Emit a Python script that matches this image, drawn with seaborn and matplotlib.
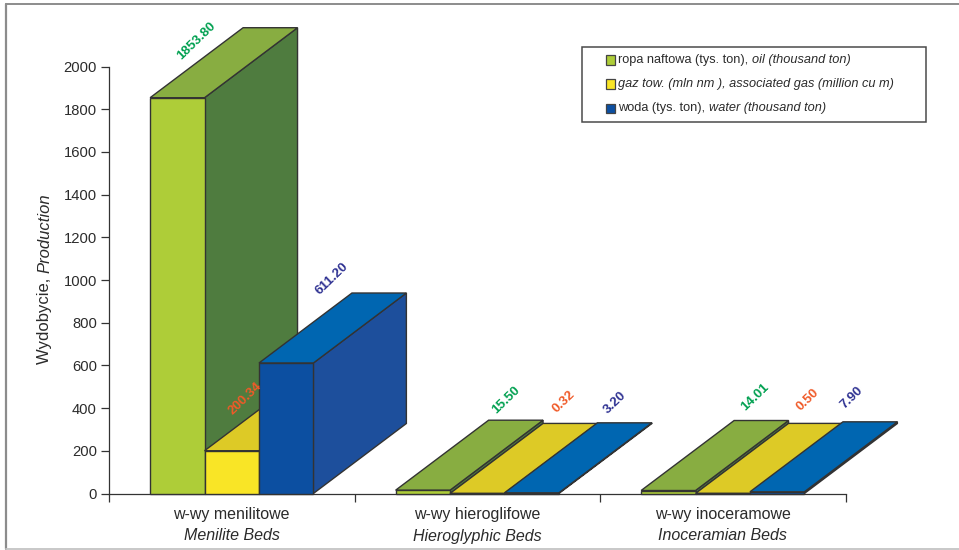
import matplotlib
matplotlib.use("Agg")
import matplotlib.pyplot as plt
from matplotlib.lines import Line2D
from matplotlib.patches import Polygon, Rectangle
from matplotlib.text import Annotation
import pandas as pd
import seaborn as sns

categories = ["w-wy menilitowe", "w-wy hieroglifowe", "w-wy inoceramowe"]
categories_en = ["Menilite Beds", "Hieroglyphic Beds", "Inoceramian Beds"]
series = ["oil", "gas", "water"]
oil = [1853.80, 15.50, 14.01]
gas = [200.34, 0.32, 0.50]
water = [611.20, 3.20, 7.90]
y_ticks = [0, 200, 400, 600, 800, 1000, 1200, 1400, 1600, 1800, 2000]

front_colors = ["#AECD38", "#F9E526", "#0C4FA1"]
top_colors = ["#88AD41", "#DDCA26", "#0066B1"]
side_colors = ["#4F7C3F", "#4F7C3F", "#1D4F9C"]
label_colors = ["#00A050", "#F05A28", "#2E3192"]
edge = "#333333"
text_color = "#2B2B2B"

W, H = 959, 550
X0, X1, Y0, Y1 = 109, 845.5, 493.5, 66.5
DEPTH_X, DEPTH_Y = 93, 70  # extrusion of each bar, in pixels

# value-label offsets from the top centre of each front face, in pixels
label_offsets = {
    "oil": [(19, 57), (83, 90), (87, 93)],
    "gas": [(13, 52), (87, 92), (85, 94)],
    "water": [(46, 84), (83, 90), (75, 94)],
}

sns.set_theme(style="white")
plt.rcParams["font.family"] = ["Liberation Sans", "DejaVu Sans"]
plt.rcParams["axes.unicode_minus"] = False

fig = plt.figure(figsize=(W / 100, H / 100), dpi=100)
ax = fig.add_axes([X0 / W, 1 - Y0 / H, (X1 - X0) / W, (Y0 - Y1) / H])


def px(x, y):
    """Pixel position (origin top left) to figure fraction."""
    return x / W, 1 - y / H


table = pd.DataFrame({
    "category": categories * 3,
    "series": [s for s in series for _ in categories],
    "value": oil + gas + water,
})

sns.barplot(
    data=table, x="category", y="value", hue="series", order=categories,
    hue_order=series, palette=front_colors, width=0.665, gap=0, saturation=1,
    edgecolor=edge, linewidth=1.0, legend=False, ax=ax, zorder=3,
)
ax.set_xlim(-0.5, 2.5)
ax.set_ylim(0, 2000)

dx = DEPTH_X / (X1 - X0) * 3
dy = DEPTH_Y / (Y0 - Y1) * 2000

# each series' bars in hue order; later bars are painted over earlier ones
z = 3.0
for s_idx, container in enumerate(ax.containers):
    for bar in container:
        x0, x1, v = bar.get_x(), bar.get_x() + bar.get_width(), bar.get_height()
        side = [(x1, 0), (x1 + dx, dy), (x1 + dx, v + dy), (x1, v)]
        top = [(x0, v), (x1, v), (x1 + dx, v + dy), (x0 + dx, v + dy)]
        z += 1
        ax.add_patch(Polygon(side, closed=True, facecolor=side_colors[s_idx],
                             edgecolor=edge, linewidth=1.0, clip_on=False, zorder=z))
        ax.add_patch(Polygon(top, closed=True, facecolor=top_colors[s_idx],
                             edgecolor=edge, linewidth=1.0, clip_on=False, zorder=z))
        bar.set_zorder(z + 0.5)
        bar.set_clip_on(False)

# value labels, raised along the slope of the extrusion
for s_idx, (name, values) in enumerate(zip(series, [oil, gas, water])):
    for c_idx, v in enumerate(values):
        bar = ax.containers[s_idx][c_idx]
        ax.annotate(
            f"{v:.2f}", xy=(bar.get_x() + bar.get_width() / 2, v),
            xytext=label_offsets[name][c_idx], textcoords="offset pixels",
            ha="center", va="center", rotation=44, rotation_mode="anchor",
            fontsize=9.6, fontweight="bold", color=label_colors[s_idx],
            annotation_clip=False, zorder=30,
        )

sns.despine(ax=ax)
for spine in ("left", "bottom"):
    ax.spines[spine].set_color(edge)
    ax.spines[spine].set_linewidth(0.9)
    ax.spines[spine].set_zorder(2)

ax.set_yticks(y_ticks)
ax.tick_params(axis="y", left=True, length=5.7, width=0.9, color=edge,
               labelsize=10.6, labelcolor=text_color, pad=3)
ax.set_xticks([-0.5, 0.5, 1.5, 2.5])
ax.set_xticklabels([])
ax.tick_params(axis="x", bottom=True, length=5.7, width=0.9, color=edge)
ax.set_xlabel("")
ax.set_ylabel("")

# two-line category labels
en_rows = [535, 537, 535]
for i, (pl, en, row) in enumerate(zip(categories, categories_en, en_rows)):
    x = ax.transData.transform((i, 0))[0] / W
    fig.text(x, 1 - 515 / H, pl, ha="center", va="center", fontsize=11.5, color=text_color)
    fig.text(x, 1 - row / H, en, ha="center", va="center", fontsize=11.5,
             fontstyle="italic", color=text_color)

# y-axis title: Polish part upright, English part italic
first = fig.text(*px(45, 364), "Wydobycie, ", rotation=90, ha="center", va="bottom",
                 fontsize=12, color=text_color)
fig.add_artist(Annotation("Production", xy=(0.5, 1), xycoords=first, rotation=90,
                          ha="center", va="bottom", fontsize=12, fontstyle="italic",
                          color=text_color, annotation_clip=False))

# legend box
lx, ly = px(582, 122)
fig.add_artist(Rectangle((lx, ly), (926 - 582) / W, 75 / H, transform=fig.transFigure,
                         facecolor="white", edgecolor="#4A4A4A", linewidth=1.1, zorder=2))
legend_rows = [
    ("ropa naftowa (tys. ton), ", "oil (thousand ton)"),
    ("", "gaz tow. (mln nm ), associated gas (million cu m)"),
    ("woda (tys. ton), ", "water (thousand ton)"),
]
for (upright, italic), color, y in zip(legend_rows, front_colors, [60, 84, 108]):
    sx, sy = px(605.5, y + 5)
    fig.add_artist(Rectangle((sx, sy), 9.5 / W, 9.5 / H, transform=fig.transFigure,
                             facecolor=color, edgecolor="#444444", linewidth=0.9, zorder=3))
    tx, ty = px(618, y)
    if upright:
        head = fig.text(tx, ty, upright, ha="left", va="center", fontsize=9.15,
                        color=text_color, zorder=3)
        fig.add_artist(Annotation(italic, xy=(1, 0), xycoords=head, ha="left", va="bottom",
                                  fontsize=9.15, fontstyle="italic", color=text_color,
                                  annotation_clip=False, zorder=3))
    else:
        fig.text(tx, ty, italic, ha="left", va="center", fontsize=9.15,
                 fontstyle="italic", color=text_color, zorder=3)

# page rules on the top, left and bottom; the right side stays open
rules = [
    ((5.5, 959), (4, 4), "#8C8C8C", 1.4),
    ((5.5, 5.5), (4, 549), "#8C8C8C", 1.6),
    ((5.5, 959), (549, 549), "#C4C4C4", 1.3),
]
for xs, ys, color, lw in rules:
    fig.add_artist(Line2D([xs[0] / W, xs[1] / W], [1 - ys[0] / H, 1 - ys[1] / H],
                          transform=fig.transFigure, color=color, linewidth=lw, zorder=1))

fig.savefig("out.png", dpi=100)
